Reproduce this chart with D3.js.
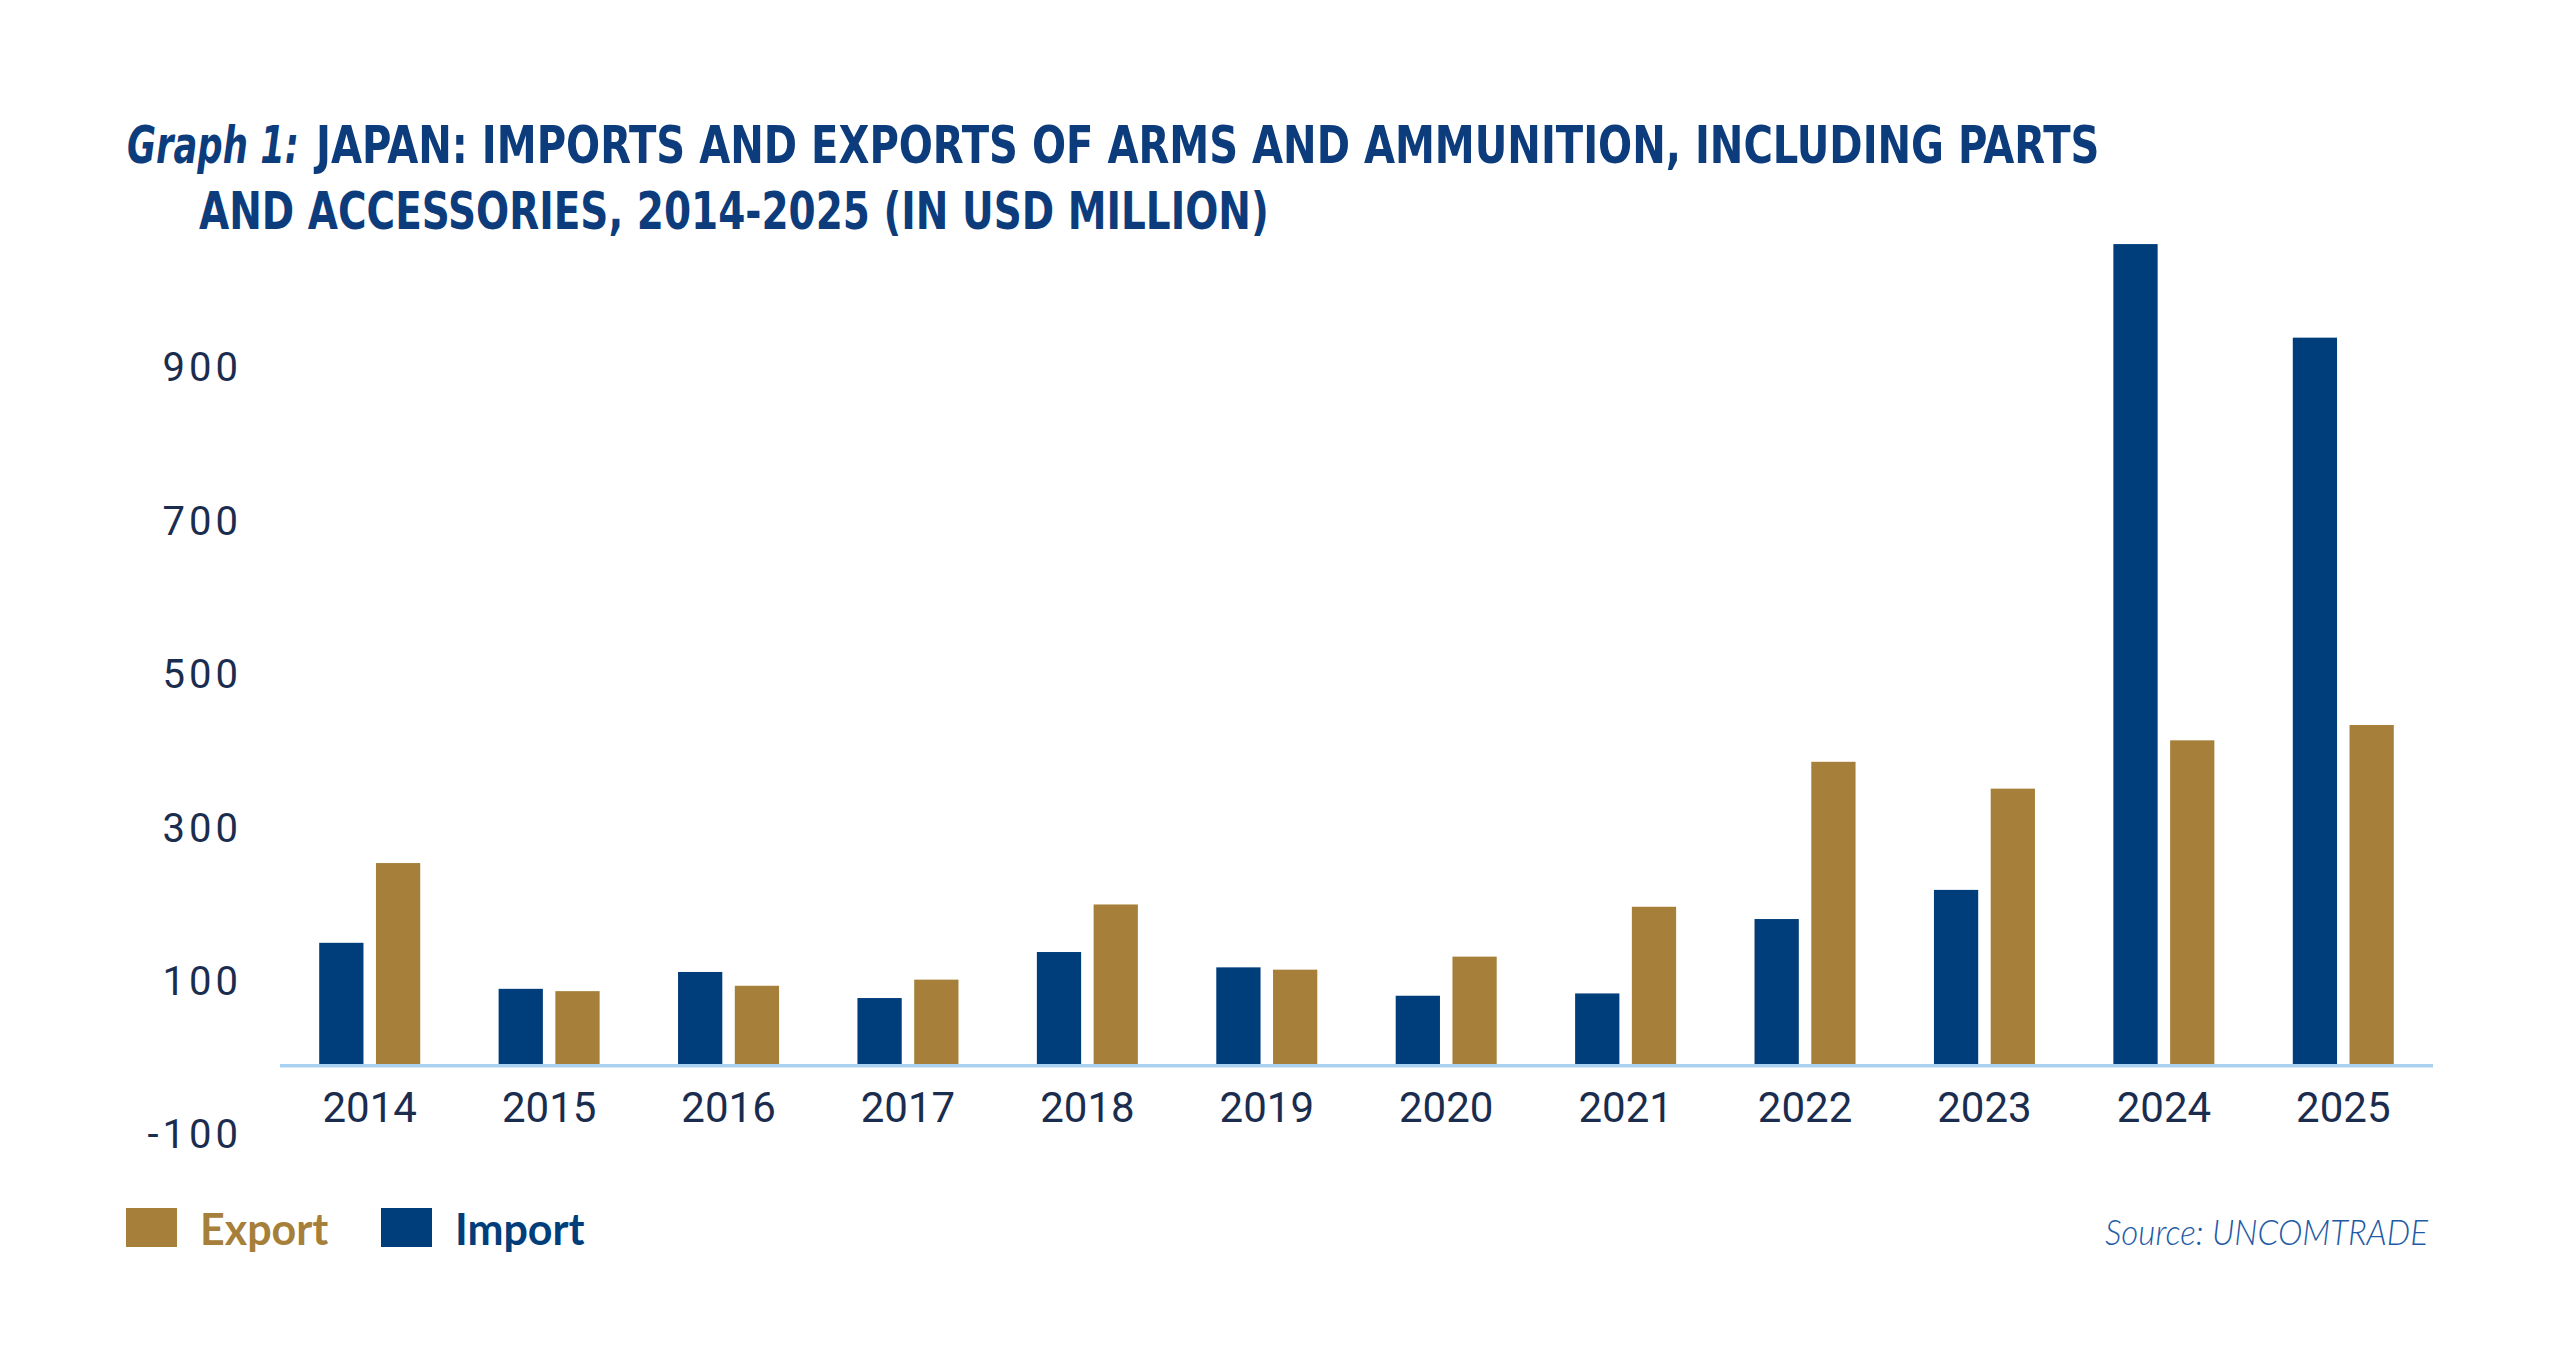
<!DOCTYPE html>
<html>
<head>
<meta charset="utf-8">
<script src="https://cdn.jsdelivr.net/npm/d3@7"></script>
<style>
	body { margin: 0; background: #fff; }
	svg { display: block; }
</style>
</head>
<body>
<div id="chart"></div>
<script>
// data (USD million)
var years = ["2014", "2015", "2016", "2017", "2018", "2019", "2020", "2021", "2022", "2023", "2024", "2025"];
var importVals = [158, 98, 120, 86, 146, 126, 89, 92, 189, 227, 1069, 947];
var exportVals = [262, 95, 102, 110, 208, 123, 140, 205, 394, 359, 422, 442];
var series = ["Import", "Export"];
var yTicks = [-100, 100, 300, 500, 700, 900];

var colors = {Import: "#003d7b", Export: "#a6803a"};
var navy = "#1b2d4f";

var W = 2560, H = 1365;

var data = years.map(function(y, i) {
	return {year: y, Import: importVals[i], Export: exportVals[i]};
});

var svg = d3.select("#chart").append("svg")
	.attr("width", W)
	.attr("height", H);

svg.append("rect").attr("width", W).attr("height", H).attr("fill", "#fff");

// scales
var x0 = d3.scaleBand()
	.domain(years)
	.range([280, 2433])
	.paddingInner(0.437)
	.paddingOuter(0.2185);

var x1 = d3.scaleBand()
	.domain(series)
	.range([0, x0.bandwidth()])
	.paddingInner(0.22);

var yScale = d3.scaleLinear()
	.domain([-100, 1100])
	.range([1140.7, 220.3]);

// squeeze a text horizontally so it spans the given width (condensed look)
function fitText(g, str, x, y, width, italic) {
	var t = g.append("text")
		.attr("font-style", italic ? "italic" : "normal")
		.text(str);
	var natural = t.node().getComputedTextLength();
	t.attr("transform", "translate(" + x + "," + y + ") scale(" + (width / natural) + ",1)");
	return t;
}

// title
var title = svg.append("g")
	.attr("fill", "#0d3c7c")
	.attr("font-family", "'Liberation Sans Narrow', 'DejaVu Sans Condensed', 'Roboto', sans-serif")
	.attr("font-weight", "bold")
	.attr("font-size", "52px");

fitText(title, "Graph 1:", 127, 163, 172, true);
fitText(title, "JAPAN: IMPORTS AND EXPORTS OF ARMS AND AMMUNITION, INCLUDING PARTS", 316, 163, 1784, false);
fitText(title, "AND ACCESSORIES, 2014-2025 (IN USD MILLION)", 199, 228.5, 1070, false);

// y axis (labels only), plain hyphen for the minus like the original
var yAxis = svg.append("g")
	.attr("transform", "translate(242,0)")
	.call(d3.axisLeft(yScale)
		.tickValues(yTicks)
		.tickFormat(function(d) { return String(d); })
		.tickSize(0)
		.tickPadding(0));

yAxis.select(".domain").remove();
yAxis.selectAll("text")
	.attr("dy", "0.18em")
	.attr("fill", navy)
	.attr("font-family", "Roboto, 'Liberation Sans', sans-serif")
	.attr("font-size", "40px")
	.attr("letter-spacing", "4px")
	.attr("text-anchor", "end");

// bars
var groups = svg.selectAll(".year")
	.data(data)
	.enter()
	.append("g")
		.attr("class", "year")
		.attr("transform", function(d) { return "translate(" + x0(d.year) + ",0)"; });

groups.selectAll("rect")
	.data(function(d) { return series.map(function(k) { return {key: k, value: d[k]}; }); })
	.enter()
	.append("rect")
		.attr("x", function(d) { return x1(d.key); })
		.attr("width", x1.bandwidth())
		.attr("y", function(d) { return yScale(d.value); })
		.attr("height", function(d) { return yScale(0) - yScale(d.value); })
		.attr("fill", function(d) { return colors[d.key]; });

// baseline
svg.append("line")
	.attr("x1", 280).attr("x2", 2433)
	.attr("y1", yScale(0) + 1.8).attr("y2", yScale(0) + 1.8)
	.attr("stroke", "#a9d1f1")
	.attr("stroke-width", 3.6);

// x labels
var xAxis = svg.append("g")
	.attr("transform", "translate(0," + (yScale(0) + 58) + ")")
	.call(d3.axisBottom(x0).tickSize(0).tickPadding(0));

xAxis.select(".domain").remove();
xAxis.selectAll("text")
	.attr("dy", 0)
	.attr("fill", navy)
	.attr("font-family", "Roboto, 'Liberation Sans', sans-serif")
	.attr("font-size", "42px");

// legend
var legendItems = [{key: "Export", x: 126, tx: 200}, {key: "Import", x: 381, tx: 455}];

var legend = svg.selectAll(".legend")
	.data(legendItems)
	.enter()
	.append("g")
		.attr("class", "legend");

legend.append("rect")
	.attr("x", function(d) { return d.x; })
	.attr("y", 1208)
	.attr("width", 51)
	.attr("height", 39)
	.attr("fill", function(d) { return colors[d.key]; });

legend.append("text")
	.attr("x", function(d) { return d.tx; })
	.attr("y", 1245)
	.attr("fill", function(d) { return colors[d.key]; })
	.attr("font-family", "Lato, 'Open Sans', sans-serif")
	.attr("font-weight", "bold")
	.attr("font-size", "43px")
	.text(function(d) { return d.key; });

// source
svg.append("text")
	.attr("x", 2105).attr("y", 1245)
	.attr("fill", "#1e5ba6")
	.attr("font-family", "Lato, 'Open Sans', sans-serif")
	.attr("font-weight", 300)
	.attr("font-style", "italic")
	.attr("font-size", "36px")
	.attr("textLength", 323).attr("lengthAdjust", "spacingAndGlyphs")
	.text("Source: UNCOMTRADE");
</script>
</body>
</html>
